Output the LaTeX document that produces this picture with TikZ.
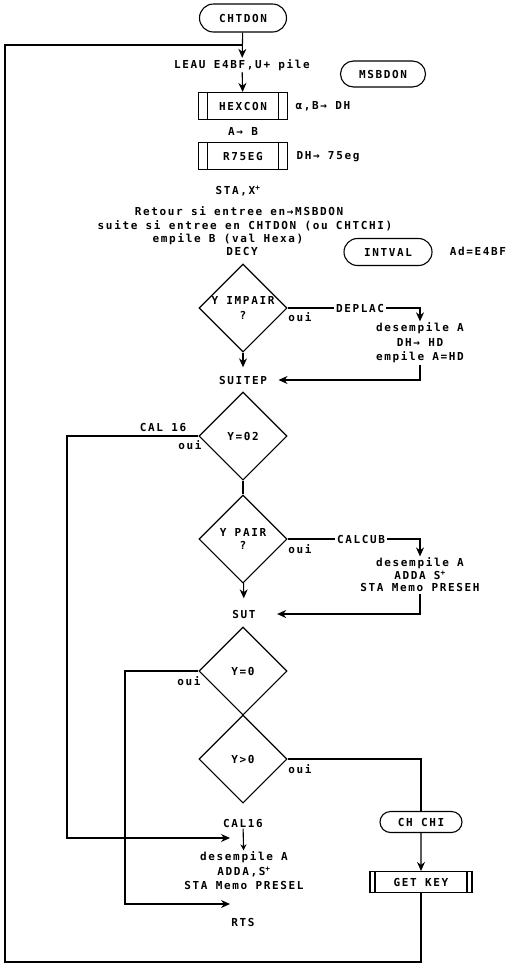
\documentclass[tikz,border=0pt]{standalone}
\usepackage{fontspec}
\newfontfamily\plotfont[LetterSpace=15]{DejaVu Sans Mono}
\usetikzlibrary{arrows.meta,shapes.geometric,shapes.misc}

\tikzset{
  term/.style={rounded rectangle, draw, inner sep=1pt},
  subr/.style={draw, rectangle, minimum width=89pt, minimum height=27pt, inner sep=1pt,
    path picture={\draw ([xshift=#1]path picture bounding box.north west) -- ([xshift=#1]path picture bounding box.south west)
      ([xshift=-#1]path picture bounding box.north east) -- ([xshift=-#1]path picture bounding box.south east);}},
  subr/.default=9pt,
  test/.style={diamond, draw, minimum width=88pt, minimum height=88pt, inner sep=0pt},
  txt/.style={inner sep=1pt, align=center},
  tight/.style={font=\plotfont\bfseries\fontsize{11}{12.5}\selectfont},
}

\begin{document}
\begin{tikzpicture}[x=1pt,y=-1pt,>={Stealth[length=9pt,width=8pt]},line width=1.1pt,
  font=\plotfont\bfseries\fontsize{11}{14.5}\selectfont]
\useasboundingbox[fill=white] (0,0) rectangle (513,970);
%%
  % Node: CHTDON
  \node[term, minimum width=89pt, minimum height=28pt] (chtdon) at (243,18) {CHTDON};
  \coordinate (join) at (243,45);
  % Node: LEAU
  \node[txt] (leau) at (242,65) {LEAU E4BF,U+ pile};
  % Node: MSBDON
  \node[term, minimum width=87pt, minimum height=26pt] (msbdon) at (383,74) {MSBDON};
  % Node: HEXCON
  \node[subr] (hexcon) at (243,106) {HEXCON};
  \node[txt, anchor=west] (hexres) at (294,106) {α,B→ DH};
  \node[txt] (atob) at (243,131) {A→ B};
  % Node: R75EG
  \node[subr] (r75eg) at (243,156) {R75EG};
  \node[txt, anchor=west] (r75res) at (295,157) {DH→ 75eg};
  \node[txt] (stax) at (238,191) {STA,X\textsuperscript{+}};
  \node[txt] (retour) at (239,211) {Retour si entree en→MSBDON};
  \node[txt] (suite) at (245,226) {suite si entree en CHTDON (ou CHTCHI)};
  \node[txt] (empileb) at (228,239) {empile B (val Hexa)};
  \node[txt] (decy) at (242,251) {DECY};
  % Node: INTVAL
  \node[term, minimum width=90pt, minimum height=27pt] (intval) at (388,252) {INTVAL};
  \node[txt] (adr) at (478,251) {Ad=E4BF};
  % Node: Y IMPAIR
  \node[test, label={[txt]center:Y IMPAIR\\?}] (impair) at (243,308) {};
  \node[txt] (oui1) at (300,317) {oui};
  \node[txt] (deplac) at (360,308) {DEPLAC};
  \node[txt] (deplacblk) at (420,343) {desempile A\\DH→ HD\\empile A=HD};
  \node[txt] (suitep) at (243,380) {SUITEP};
  % Node: Y=02
  \node[test] (y02) at (243,436) {Y=02};
  \node[txt] (cal16a) at (163,427) {CAL 16};
  \node[txt] (oui2) at (190,445) {oui};
  % Node: Y PAIR
  \node[test, label={[txt, tight]center:Y PAIR\\?}] (pair) at (243,539) {};
  \node[txt] (oui3) at (300,549) {oui};
  \node[txt] (calcub) at (361,539) {CALCUB};
  \node[txt, tight] (calcubblk) at (420,575) {desempile A\\ADDA S\textsuperscript{+}\\STA Memo PRESEH};
  \node[txt] (sut) at (244,614) {SUT};
  % Node: Y=0
  \node[test] (y0) at (243,671) {Y=0};
  \node[txt] (oui4) at (189,681) {oui};
  % Node: Y>0
  \node[test] (ygt0) at (243,759) {Y>0};
  \node[txt] (oui5) at (300,769) {oui};
  % Node: CH CHI
  \node[term, minimum width=84pt, minimum height=21pt] (chchi) at (421,822) {CH CHI};
  % Node: GET KEY
  \node[subr=5pt, minimum width=102pt, minimum height=21pt] (getkey) at (421,882) {GET KEY};
  % Node: CAL16
  \node[txt] (cal16) at (243,823) {CAL16};
  \node[txt] (presel) at (244,871) {desempile A\\ADDA,S\textsuperscript{+}\\STA Memo PRESEL};
  \node[txt] (rts) at (243,922) {RTS};
  \coordinate (c16left) at (67,838);
  \coordinate (c16end) at (230,838);
  \coordinate (rtsleft) at (125,904);
  \coordinate (rtsend) at (230,904);
  \coordinate (loopbl) at (5,962);
%%
  % Edge: CHTDON -> LEAU
  \draw[->] (chtdon) -- (leau);
  % Edge: GET KEY -> LEAU (loop)
  \draw (getkey) |- (loopbl) |- (join);
  % Edge: LEAU -> HEXCON
  \draw[->] (leau) -- (hexcon);
  % Edge: Y IMPAIR -> DEPLAC -> SUITEP
  \draw (impair) -- (deplac);
  \draw[->] (deplac) -| (deplacblk);
  \draw[->, shorten >=10pt] (deplacblk) |- (suitep);
  \draw[->, shorten >=7pt] (impair) -- (suitep);
  % Edge: Y=02 -> CAL16
  \draw[->] (y02) -| (c16left) -- (c16end);
  \draw (y02) -- (pair);
  % Edge: Y PAIR -> CALCUB -> SUT
  \draw (pair) -- (calcub);
  \draw[->] (calcub) -| (calcubblk);
  \draw[->, shorten >=20pt] (calcubblk) |- (sut);
  \draw[->, shorten >=10pt] (pair) -- (sut);
  % Edge: Y=0 -> RTS
  \draw[->] (y0) -| (rtsleft) -- (rtsend);
  % Edge: Y>0 -> CH CHI -> GET KEY
  \draw (ygt0) -| (chchi);
  \draw[->] (chchi) -- (getkey);
  % Edge: CAL16 -> desempile
  \draw[-{Stealth[length=6pt,width=6pt]}] (cal16) -- (presel);
%
\end{tikzpicture}
\end{document}
